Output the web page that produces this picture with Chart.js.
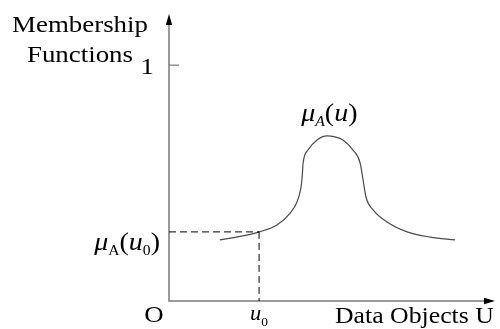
<!DOCTYPE html>
<html>
<head>
<meta charset="utf-8">
<script src="https://cdn.jsdelivr.net/npm/chart.js@4/dist/chart.umd.min.js"></script>
<style>
  html, body { margin: 0; padding: 0; background: #ffffff; }
  #c { display: block; }
</style>
</head>
<body>
<canvas id="c" width="500" height="329"></canvas>
<script>
// ---- data ----
const uValues  = [1.57, 2.28, 2.78, 3.33, 3.74, 3.95, 4.07, 4.11, 4.14, 4.29, 4.57, 4.88, 5.12, 5.37, 5.68, 5.90, 5.99, 6.08, 6.30, 6.73, 7.35, 8.06, 8.83];
const muValues = [0.259, 0.276, 0.293, 0.322, 0.373, 0.420, 0.479, 0.526, 0.585, 0.640, 0.683, 0.700, 0.696, 0.683, 0.640, 0.585, 0.513, 0.441, 0.386, 0.335, 0.293, 0.271, 0.259];
const u0 = 2.78;
const muAtU0 = 0.293;
const yTickValues = [1];
const yTickLabels = ['1'];
const peakU = 4.95;
const peakMu = 0.70;

const SERIF = '"Liberation Serif", "DejaVu Serif", serif';
const SX = 1.12; // horizontal text stretch seen in the reference

function richWidth(ctx, parts) {
  let w = 0;
  for (const p of parts) { ctx.font = p.f + ' ' + SERIF; w += ctx.measureText(p.t).width; }
  return w * SX;
}
function drawRich(ctx, x, y, parts, align) {
  const w = richWidth(ctx, parts);
  let sx = x;
  if (align === 'center') sx = x - w / 2;
  else if (align === 'right') sx = x - w;
  ctx.save();
  ctx.translate(sx, y);
  ctx.scale(SX, 1);
  ctx.textBaseline = 'alphabetic';
  ctx.textAlign = 'left';
  ctx.fillStyle = '#000';
  let cx = 0;
  for (const p of parts) {
    ctx.font = p.f + ' ' + SERIF;
    ctx.fillText(p.t, cx, p.dy || 0);
    cx += ctx.measureText(p.t).width;
  }
  ctx.restore();
}

const axesPlugin = {
  id: 'axesPlugin',
  afterDatasetsDraw(chart) {
    const ctx = chart.ctx;
    const xs = chart.scales.x, ys = chart.scales.y;
    const x0 = xs.getPixelForValue(0), y0 = ys.getPixelForValue(0);
    const xEnd = xs.getPixelForValue(xs.max), yTop = ys.getPixelForValue(ys.max);

    // axis lines
    ctx.save();
    ctx.strokeStyle = '#7a7a7a';
    ctx.lineWidth = 1.5;
    ctx.beginPath();
    ctx.moveTo(x0, yTop + 6);
    ctx.lineTo(x0, y0);
    ctx.lineTo(xEnd - 6, y0);
    ctx.stroke();
    // arrowheads
    ctx.fillStyle = '#000';
    ctx.beginPath();
    ctx.moveTo(x0, yTop - 4);
    ctx.lineTo(x0 - 3.2, yTop + 7);
    ctx.lineTo(x0 + 3.2, yTop + 7);
    ctx.closePath();
    ctx.fill();
    ctx.beginPath();
    ctx.moveTo(xEnd + 2, y0);
    ctx.lineTo(xEnd - 9, y0 - 3.2);
    ctx.lineTo(xEnd - 9, y0 + 3.2);
    ctx.closePath();
    ctx.fill();

    // y ticks
    ctx.strokeStyle = '#7a7a7a';
    ctx.lineWidth = 1.2;
    yTickValues.forEach((v, i) => {
      const py = ys.getPixelForValue(v);
      ctx.beginPath();
      ctx.moveTo(x0, py);
      ctx.lineTo(x0 + 10, py);
      ctx.stroke();
    });

    // dashed guide lines at u0
    const pu = xs.getPixelForValue(u0), pm = ys.getPixelForValue(muAtU0);
    ctx.strokeStyle = '#000';
    ctx.lineWidth = 1;
    ctx.setLineDash([7, 4]);
    ctx.beginPath();
    ctx.moveTo(x0, pm);
    ctx.lineTo(pu, pm);
    ctx.moveTo(pu, pm);
    ctx.lineTo(pu, y0);
    ctx.stroke();
    ctx.setLineDash([]);
    ctx.restore();

    // texts
    yTickValues.forEach((v, i) => {
      drawRich(ctx, x0 - 15, ys.getPixelForValue(v) + 9, [{t: yTickLabels[i], f: '24px'}], 'right');
    });
    drawRich(ctx, 80, 32, [{t: 'Membership', f: '24px'}], 'center');
    drawRich(ctx, 80, 62, [{t: 'Functions', f: '24px'}], 'center');
    drawRich(ctx, x0 - 15, y0 + 21, [{t: 'O', f: '24px'}], 'center');
    drawRich(ctx, x0 + 166, y0 + 22, [{t: 'Data Objects U', f: '23px'}], 'left');
    drawRich(ctx, pu, y0 + 19, [{t: 'u', f: 'italic 20px'}, {t: '0', f: '12px', dy: 6}], 'center');
    drawRich(ctx, x0 - 9, pm + 18, [
      {t: 'μ', f: 'italic 25px'}, {t: 'A', f: '14px', dy: 5},
      {t: '(', f: '25px'}, {t: 'u', f: 'italic 25px'}, {t: '0', f: '14px', dy: 5}, {t: ')', f: '25px'}
    ], 'right');
    drawRich(ctx, xs.getPixelForValue(peakU), ys.getPixelForValue(peakMu) - 15, [
      {t: 'μ', f: 'italic 25px'}, {t: 'A', f: 'italic 14px', dy: 5},
      {t: '(', f: '25px'}, {t: 'u', f: 'italic 25px'}, {t: ')', f: '25px'}
    ], 'center');
  }
};

new Chart(document.getElementById('c'), {
  type: 'line',
  data: {
    datasets: [{
      data: uValues.map((u, i) => ({x: u, y: muValues[i]})),
      borderColor: '#4a4a4a',
      borderWidth: 1.2,
      pointRadius: 0,
      fill: false,
      cubicInterpolationMode: 'monotone'
    }]
  },
  options: {
    responsive: false,
    animation: false,
    devicePixelRatio: 1,
    layout: { padding: { left: 169, right: 7, top: 18, bottom: 28 } },
    plugins: { legend: { display: false }, tooltip: { enabled: false } },
    scales: {
      x: { type: 'linear', min: 0, max: 10, display: false },
      y: { type: 'linear', min: 0, max: 1.2, display: false }
    }
  },
  plugins: [axesPlugin]
});
</script>
</body>
</html>
